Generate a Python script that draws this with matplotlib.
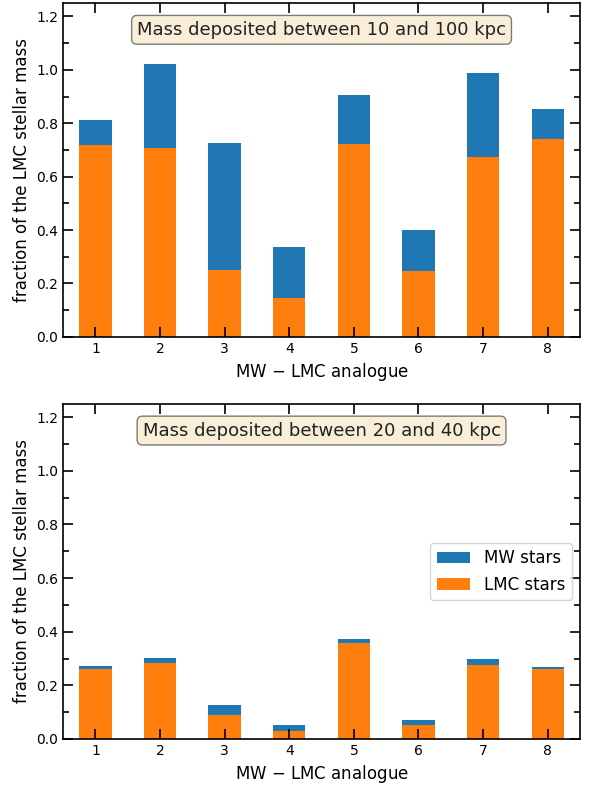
import numpy as np
import matplotlib
matplotlib.use('Agg')
import matplotlib.pyplot as plt

analogues = [1, 2, 3, 4, 5, 6, 7, 8]

# fractions of the LMC stellar mass (total = MW + LMC)
lmc_10_100 = [0.718, 0.708, 0.250, 0.146, 0.721, 0.247, 0.673, 0.740]
tot_10_100 = [0.811, 1.021, 0.725, 0.336, 0.905, 0.400, 0.987, 0.852]
lmc_20_40 = [0.262, 0.282, 0.088, 0.029, 0.357, 0.051, 0.277, 0.262]
tot_20_40 = [0.274, 0.303, 0.128, 0.053, 0.371, 0.072, 0.300, 0.270]

panel_texts = ['Mass deposited between 10 and 100 kpc',
               'Mass deposited between 20 and 40 kpc']

BLUE = '#1f77b4'
ORANGE = '#ff7f0e'
WIDTH = 0.5

plt.rcParams['axes.linewidth'] = 1.2

fig = plt.figure(figsize=(5.9, 7.87), dpi=100)
ax1 = fig.add_axes([0.107, 0.572, 0.876, 0.424])
ax2 = fig.add_axes([0.107, 0.061, 0.876, 0.426])

def plotPanel(ax, lmc, tot, text, legend=False):
    lmc = np.array(lmc)
    mw = np.array(tot) - lmc
    ax.bar(analogues, mw, width=WIDTH, bottom=lmc, color=BLUE, label='MW stars')
    ax.bar(analogues, lmc, width=WIDTH, color=ORANGE, label='LMC stars')
    ax.set_xlim(0.5, 8.5)
    ax.set_ylim(0, 1.25)
    ax.set_xticks(analogues)
    ax.set_yticks(np.arange(0, 1.21, 0.2))
    ax.set_yticks(np.arange(0, 1.25, 0.1), minor=True)
    ax.tick_params(which='both', direction='in', top=True, right=True,
                   labelsize=10, width=1.2)
    ax.tick_params(which='major', length=7)
    ax.tick_params(which='minor', length=4)
    ax.tick_params(axis='x', which='minor', top=False, bottom=False)
    ax.set_xlabel('MW $-$ LMC analogue', fontsize=12)
    ax.set_ylabel('fraction of the LMC stellar mass', fontsize=12)
    props = dict(boxstyle='round', facecolor='wheat', alpha=0.5)
    ax.text(0.5, 0.92, text, transform=ax.transAxes, fontsize=13,
            ha='center', va='center', bbox=props, color='#222222')
    if legend:
        ax.legend(loc='center right', fontsize=12)

plotPanel(ax1, lmc_10_100, tot_10_100, panel_texts[0])
plotPanel(ax2, lmc_20_40, tot_20_40, panel_texts[1], legend=True)

plt.savefig('out.png', dpi=100)
